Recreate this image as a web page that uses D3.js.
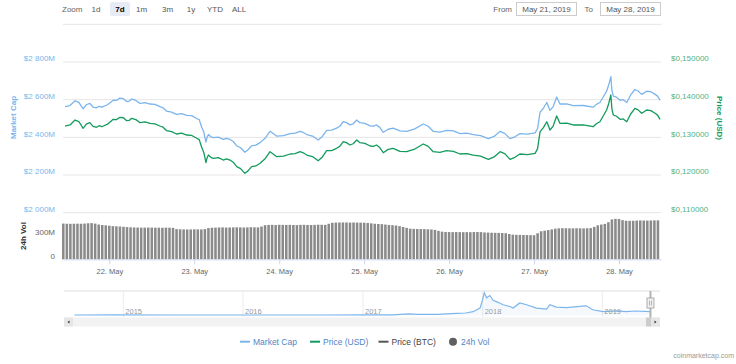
<!DOCTYPE html>
<html>
<head>
<meta charset="utf-8">
<script src="https://cdn.jsdelivr.net/npm/d3@7"></script>
<style>
    body { margin: 0; background: #fff; }
    svg { display: block; font-family: "Liberation Sans", Arial, sans-serif; }
</style>
</head>
<body>
<div id="graphDiv"></div>
<script>
// hours after 2019-05-21 00:00 UTC
const priceHours = [11.5,12.9,14.3,15.4,16.6,17.5,18.5,19.4,20.4,21.1,21.9,23.5,25.1,26.0,27.0,28.0,28.9,29.6,30.3,31.5,
    32.7,34.1,35.5,36.9,38.3,39.2,40.2,41.6,43.0,44.4,45.9,47.3,48.7,49.4,50.1,50.7,51.3,51.6,52.0,52.7,
    53.4,54.8,56.2,57.1,58.1,59.0,60.0,61.1,62.3,63.2,64.2,65.4,66.6,68.0,69.4,70.3,71.3,73.2,75.1,76.5,
    77.9,78.8,79.8,81.4,83.0,84.2,85.4,86.8,88.2,89.1,90.1,91.0,92.0,92.9,93.9,94.3,94.8,96.2,97.7,98.6,
    99.5,100.4,101.4,102.8,104.2,106.1,108.0,110.3,112.7,114.1,115.5,117.4,119.3,121.2,123.1,125.0,126.8,128.9,131.1,132.7,
    134.4,135.8,137.2,138.6,140.0,142.1,144.3,145.0,145.7,146.6,147.6,148.0,148.5,149.4,150.4,150.8,151.3,153.2,155.1,157.9,
    160.7,161.6,162.6,163.5,164.5,165.1,165.7,166.0,166.4,167.3,168.3,169.2,170.2,171.3,172.5,173.4,174.4,175.1,175.8,177.0,
    178.2,178.9,179.6]

const priceUsd = [.13301,.13330,.13460,.13420,.13240,.13350,.13389,.13290,.13267,.13310,.13282,.13350,.13479,.13470,.13532,.13520,.13442,.13450,.13505,.13470,
    .13389,.13410,.13373,.13360,.13301,.13270,.13176,.13150,.13089,.13110,.13062,.13050,.12975,.12940,.12736,.12600,.12327,.12450,.12531,.12470,
    .12444,.12460,.12398,.12430,.12398,.12340,.12221,.12170,.12045,.12110,.12221,.12240,.12311,.12430,.12619,.12560,.12486,.12500,.12558,.12570,
    .12619,.12590,.12531,.12490,.12380,.12480,.12645,.12650,.12709,.12760,.12884,.12860,.12797,.12830,.12929,.12900,.12858,.12840,.12770,.12760,
    .12797,.12730,.12592,.12680,.12709,.12630,.12619,.12690,.12823,.12760,.12619,.12600,.12645,.12630,.12558,.12570,.12531,.12500,.12417,.12480,
    .12619,.12560,.12417,.12470,.12558,.12540,.12576,.12700,.13150,.13250,.13415,.13320,.13195,.13300,.13567,.13480,.13373,.13380,.13328,.13330,
    .13282,.13360,.13415,.13560,.13726,.13900,.14124,.13750,.13593,.13560,.13479,.13490,.13415,.13620,.13771,.13730,.13638,.13680,.13726,.13710,
    .13638,.13590,.13479]

// market cap, millions USD
const marketCap = [2563,2569,2594,2586,2551,2573,2580,2561,2557,2565,2560,2573,2597,2596,2608,2605,2590,2592,2603,2596,
    2580,2584,2577,2575,2563,2557,2539,2534,2522,2526,2517,2515,2500,2494,2454,2428,2375,2399,2415,2403,
    2398,2401,2389,2395,2389,2378,2355,2345,2321,2334,2355,2359,2372,2395,2432,2420,2406,2409,2420,2422,
    2432,2426,2415,2407,2386,2405,2437,2438,2449,2459,2483,2478,2466,2472,2492,2486,2478,2474,2461,2459,
    2466,2453,2427,2443,2449,2434,2432,2445,2471,2459,2432,2428,2437,2434,2420,2422,2415,2409,2393,2405,
    2432,2420,2393,2403,2420,2417,2424,2447,2534,2553,2585,2567,2543,2563,2614,2598,2577,2578,2568,2569,
    2560,2575,2585,2613,2645,2679,2722,2650,2619,2613,2597,2600,2585,2625,2654,2646,2628,2636,2645,2642,
    2628,2619,2597]

// 24h volume, millions USD, one bar per hour starting at hour 11
const volumeStartHour = 11
const volume = [452,450,449,450,451,450,452,456, 458,452,440,434,430,425,420,418,
    415,412,408,405,403,402,401,401, 402,401,400,400,399,401,400,398,
    382,380,379,378,378,380,379,378, 382,395,400,401,403,404,402,403,
    404,405,404,403,404,406,405,404, 415,432,435,436,434,437,436,435,
    436,434,433,436,437,435,434,436, 438,437,436,450,462,465,466,467,
    466,465,466,465,464,463,460,455, 450,447,445,440,435,432,428,420,
    410,398,388,385,384,383,382,380, 378,372,360,350,346,345,344,345,
    344,343,344,343,345,346,344,340, 338,336,335,334,333,330,320,312,
    310,309,308,307,306,305,330,355, 362,370,378,388,392,394,393,392,
    392,393,392,391,393,395,410,430, 440,448,470,505,512,510,495,488,
    487,488,490,492,491,490,492,493, 493]

const capTicks = [2000, 2200, 2400, 2600, 2800]
const priceTicks = [0.11, 0.12, 0.13, 0.14, 0.15]
const volTicks = [0, 300]
const dayTicks = ["2019-05-22","2019-05-23","2019-05-24","2019-05-25","2019-05-26","2019-05-27","2019-05-28"]

const zoomButtons = ["1d","7d","1m","3m","1y","YTD","ALL"]

// navigator: whole history, market cap in billions
const navDates = ["2014-08-05","2014-12-01","2015-06-01","2016-01-01","2016-09-01","2017-01-01","2017-04-01","2017-05-20",
    "2017-06-20","2017-08-15","2017-10-13","2017-11-10","2017-12-03","2017-12-24","2018-01-01","2018-01-06",
    "2018-01-13","2018-01-23","2018-02-02","2018-02-17","2018-03-04","2018-03-25","2018-04-04","2018-04-24",
    "2018-05-15","2018-06-14","2018-07-15","2018-07-25","2018-08-14","2018-09-13","2018-10-24","2018-11-13",
    "2018-12-03","2019-01-03","2019-02-13","2019-03-16","2019-04-10","2019-05-28"]
const navCap = [0.01,0.02,0.01,0.01,0.01,0.02,0.15,0.8,0.5,0.4,1.2,1.5,2.5,5.2,11.5,16.7,
    12.9,14.6,11.0,9.5,7.7,6.4,5.2,9.0,7.7,5.2,4.4,7.7,5.9,5.6,6.4,6.9,3.9,2.5,3.1,2.5,3.0,2.6]
const navYears = ["2015","2016","2017","2018","2019"]

const legendItems = [
    { name: "Market Cap", color: "#7cb5ec", text: "#4f86c6", symbol: "line" },
    { name: "Price (USD)", color: "#129b5d", text: "#4f86c6", symbol: "line" },
    { name: "Price (BTC)", color: "#555555", text: "#444444", symbol: "line" },
    { name: "24h Vol", color: "#606060", text: "#4f86c6", symbol: "dot" }
]

const capColor = "#7cb5ec"
const priceColor = "#129b5d"
const gridColor = "#e6e6e6"

const W = 736, H = 364
const plot = { left: 63, right: 661, top: 62, bottom: 212.7 }
const volBottom = 259.3

const t0 = Date.UTC(2019, 4, 21)
const hourDate = h => new Date(t0 + h * 3600e3)

const svg = d3.select("#graphDiv")
    .append("svg")
    .attr("width", W)
    .attr("height", H)

const xScale = d3.scaleUtc()
    .domain([hourDate(10 + 55 / 60), hourDate(179 + 52 / 60)])
    .range([plot.left, plot.right])
const capScale = d3.scaleLinear().domain([2000, 2800]).range([plot.bottom, plot.top])
const priceScale = d3.scaleLinear().domain([0.11, 0.15]).range([plot.bottom, plot.top])
const volScale = d3.scaleLinear().domain([0, 590]).range([volBottom, plot.bottom])

// range selector
const selector = svg.append("g")
selector.append("text").attr("x", 62).attr("y", 12).attr("font-size", 8).attr("fill", "#666").text("Zoom")
const btnX = [96, 120, 141.5, 167.5, 191, 215, 239]
zoomButtons.forEach((b, i) => {
    if (b === "7d") {
        selector.append("rect").attr("x", btnX[i] - 10).attr("y", 2).attr("width", 20).attr("height", 14)
            .attr("rx", 2).attr("fill", "#e6ebf5")
    }
    selector.append("text").attr("x", btnX[i]).attr("y", 12).attr("text-anchor", "middle")
        .attr("font-size", 8).attr("fill", b === "7d" ? "#000" : "#555")
        .attr("font-weight", b === "7d" ? "bold" : "normal").text(b)
})
selector.append("text").attr("x", 512).attr("y", 12).attr("text-anchor", "end").attr("font-size", 8).attr("fill", "#666").text("From")
selector.append("text").attr("x", 593).attr("y", 12).attr("text-anchor", "end").attr("font-size", 8).attr("fill", "#666").text("To")
const dateBoxes = [[516.5, "May 21, 2019"], [600.5, "May 28, 2019"]]
dateBoxes.forEach(([x, t]) => {
    selector.append("rect").attr("x", x).attr("y", 2.5).attr("width", 60).attr("height", 13)
        .attr("fill", "#fff").attr("stroke", "#ccc").attr("stroke-width", 1)
    selector.append("text").attr("x", x + 30).attr("y", 12).attr("text-anchor", "middle")
        .attr("font-size", 8).attr("fill", "#555").text(t)
})

// gridlines (3000M line sits under the range selector)
svg.append("g")
    .selectAll("line")
    .data(capTicks.concat([3000]))
    .enter()
    .append("line")
    .attr("x1", plot.left).attr("x2", plot.right)
    .attr("y1", d => capScale(d)).attr("y2", d => capScale(d))
    .attr("stroke", gridColor)

const fmtCap = d => "$" + d3.format(",")(d).replace(",", " ") + "M"
const fmtPrice = d => "$" + d.toFixed(6).replace(".", ",")

svg.append("g")
    .selectAll("text")
    .data(capTicks)
    .enter()
    .append("text")
    .attr("x", 55)
    .attr("y", d => capScale(d) - 0.8)
    .attr("text-anchor", "end")
    .attr("font-size", 8)
    .attr("fill", capColor)
    .text(fmtCap)

svg.append("g")
    .selectAll("text")
    .data(priceTicks)
    .enter()
    .append("text")
    .attr("x", 671)
    .attr("y", d => priceScale(d) - 0.8)
    .attr("font-size", 8)
    .attr("fill", "#4db487")
    .text(fmtPrice)

svg.append("text")
    .attr("transform", `translate(16, 117.5) rotate(-90)`)
    .attr("text-anchor", "middle")
    .attr("font-size", 8).attr("font-weight", "bold")
    .attr("fill", capColor)
    .text("Market Cap")

svg.append("text")
    .attr("transform", `translate(717, 118) rotate(90)`)
    .attr("text-anchor", "middle")
    .attr("font-size", 8).attr("font-weight", "bold")
    .attr("fill", priceColor)
    .text("Price (USD)")

// volume bars
const slot = xScale(hourDate(1)) - xScale(hourDate(0))
svg.append("g")
    .selectAll("rect")
    .data(volume)
    .enter()
    .append("rect")
    .attr("x", (d, i) => xScale(hourDate(volumeStartHour + i)) - slot / 2 + 0.5)
    .attr("y", d => volScale(d))
    .attr("width", slot - 1)
    .attr("height", d => volBottom - volScale(d))
    .attr("fill", "#8a8a8a")

svg.append("g")
    .selectAll("text")
    .data(volTicks)
    .enter()
    .append("text")
    .attr("x", 55)
    .attr("y", d => volScale(d) - 0.8)
    .attr("text-anchor", "end")
    .attr("font-size", 8)
    .attr("fill", "#666")
    .text(d => d === 0 ? "0" : d + "M")

svg.append("text")
    .attr("transform", `translate(25.5, 236) rotate(-90)`)
    .attr("text-anchor", "middle")
    .attr("font-size", 8).attr("font-weight", "bold")
    .attr("fill", "#333")
    .text("24h Vol")

// x-axis
const bottomAxis = d3.axisBottom(xScale)
    .tickValues(dayTicks.map(d => new Date(d + "T00:00:00Z")))
    .tickFormat(d3.utcFormat("%-d. %b"))
    .tickSize(5)
    .tickPadding(4)
    .tickSizeOuter(0)

const axisG = svg.append("g")
    .attr("transform", `translate(0, ${volBottom})`)
    .call(bottomAxis)
axisG.select(".domain").attr("stroke", "#ccd6eb")
axisG.selectAll(".tick line").attr("stroke", "#ccd6eb")
axisG.selectAll(".tick text").attr("font-size", 7.5).attr("fill", "#666")
    .attr("font-family", "Liberation Sans, Arial, sans-serif")

// lines
const capLine = d3.line()
    .x((d, i) => xScale(hourDate(priceHours[i])))
    .y(d => capScale(d))
const priceLine = d3.line()
    .x((d, i) => xScale(hourDate(priceHours[i])))
    .y(d => priceScale(d))

svg.append("path")
    .datum(marketCap)
    .attr("d", capLine)
    .attr("fill", "none")
    .attr("stroke", capColor)
    .attr("stroke-width", 1.3)
    .attr("stroke-linejoin", "round")

svg.append("path")
    .datum(priceUsd)
    .attr("d", priceLine)
    .attr("fill", "none")
    .attr("stroke", priceColor)
    .attr("stroke-width", 1.3)
    .attr("stroke-linejoin", "round")

// navigator
const nav = { left: 64, right: 660, top: 291, bottom: 316 }
const navX = d3.scaleUtc()
    .domain([new Date("2014-07-04T00:00:00Z"), new Date("2019-06-26T00:00:00Z")])
    .range([nav.left, nav.right])
const navY = d3.scaleLinear().domain([0, 18]).range([315, nav.top])

const navG = svg.append("g")
navG.append("line").attr("x1", nav.left).attr("x2", nav.right).attr("y1", nav.top).attr("y2", nav.top)
    .attr("stroke", "#ddd")
navG.selectAll(".yearLine")
    .data(navYears)
    .enter()
    .append("line")
    .attr("x1", d => navX(new Date(d + "-01-01T00:00:00Z")))
    .attr("x2", d => navX(new Date(d + "-01-01T00:00:00Z")))
    .attr("y1", nav.top).attr("y2", nav.bottom + 1)
    .attr("stroke", "#ececec")

const navArea = d3.area()
    .x((d, i) => navX(new Date(navDates[i] + "T00:00:00Z")))
    .y0(315.5)
    .y1(d => navY(d))
navG.append("path").datum(navCap).attr("d", navArea).attr("fill", capColor).attr("fill-opacity", 0.08)
navG.append("path").datum(navCap)
    .attr("d", d3.line().x((d, i) => navX(new Date(navDates[i] + "T00:00:00Z"))).y(d => navY(d)))
    .attr("fill", "none").attr("stroke", capColor).attr("stroke-width", 1.2)

navG.selectAll(".yearText")
    .data(navYears)
    .enter()
    .append("text")
    .attr("x", d => navX(new Date(d + "-01-01T00:00:00Z")) + 2)
    .attr("y", 314)
    .attr("font-size", 7.5)
    .attr("fill", "#999")
    .text(d => d)

// scrollbar
const sbY = 317.5, sbH = 9
navG.append("rect").attr("x", nav.left).attr("y", sbY).attr("width", nav.right - nav.left).attr("height", sbH).attr("fill", "#f2f2f2")
navG.append("rect").attr("x", nav.left).attr("y", sbY).attr("width", 9).attr("height", sbH).attr("fill", "#e6e6e6")
navG.append("rect").attr("x", nav.right - 9).attr("y", sbY).attr("width", 9).attr("height", sbH).attr("fill", "#e6e6e6")
navG.append("rect").attr("x", nav.right - 14).attr("y", sbY).attr("width", 5).attr("height", sbH).attr("fill", "#cccccc")
navG.append("path").attr("d", `M${nav.left + 3.5},${sbY + 4.5} l2,-1.5 v3 z`).attr("fill", "#333")
navG.append("path").attr("d", `M${nav.right - 3.5},${sbY + 4.5} l-2,-1.5 v3 z`).attr("fill", "#333")

// handle of the selected range
const hx = navX(new Date("2019-05-28T00:00:00Z"))
navG.append("line").attr("x1", hx).attr("x2", hx).attr("y1", nav.top).attr("y2", sbY).attr("stroke", "#b3b3b3").attr("stroke-width", 2)
navG.append("rect").attr("x", hx - 3.5).attr("y", 298).attr("width", 7).attr("height", 10)
    .attr("fill", "#f2f2f2").attr("stroke", "#999").attr("stroke-width", 0.8)
navG.append("path").attr("d", `M${hx - 1},300.5 v5 M${hx + 1},300.5 v5`).attr("stroke", "#999").attr("stroke-width", 0.7)

// legend
const legendX = [240, 310, 378.5, 453]
const legend = svg.append("g")
legendItems.forEach((item, i) => {
    const x = legendX[i]
    if (item.symbol === "line") {
        legend.append("line").attr("x1", x).attr("x2", x + 10).attr("y1", 341.7).attr("y2", 341.7)
            .attr("stroke", item.color).attr("stroke-width", 2)
    } else {
        legend.append("circle").attr("cx", x).attr("cy", 341.7).attr("r", 4).attr("fill", item.color)
    }
    legend.append("text")
        .attr("x", item.symbol === "line" ? x + 13 : x + 8)
        .attr("y", 344.6)
        .attr("font-size", 8.5)
        .attr("fill", item.text)
        .text(item.name)
})

svg.append("text")
    .attr("x", 734)
    .attr("y", 358)
    .attr("text-anchor", "end")
    .attr("font-size", 7)
    .attr("fill", "#999")
    .text("coinmarketcap.com")
</script>
</body>
</html>
